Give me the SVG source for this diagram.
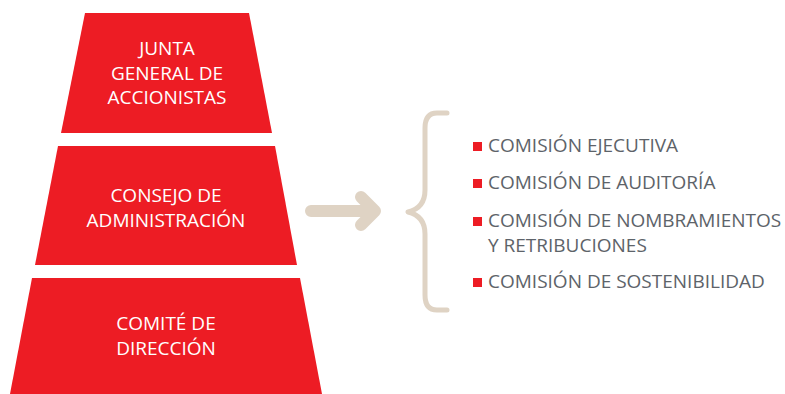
<svg xmlns="http://www.w3.org/2000/svg" width="785" height="394" viewBox="0 0 785 394">
<style>
.tier{fill:#ED1C24}
.wt{font-family:"Open Sans","Noto Sans",sans-serif;font-size:19px;fill:#ffffff;text-anchor:middle}
.lt{font-family:"Open Sans","Noto Sans",sans-serif;font-size:19px;fill:#5d6369}
.bul{fill:#ED1C24}
.con{fill:none;stroke:#DFD3C4;stroke-linecap:round;stroke-linejoin:round}
</style>
<rect width="785" height="394" fill="#ffffff"/>
<g id="junta">
<polygon class="tier" points="85,13 249,13 272,133 61,133"/>
<text class="wt" x="167" y="55">JUNTA</text>
<text class="wt" x="167" y="80">GENERAL DE</text>
<text class="wt" x="167" y="104">ACCIONISTAS</text>
</g>
<g id="consejo">
<polygon class="tier" points="58,146 275,146 297,265 35,265"/>
<text class="wt" x="166" y="202">CONSEJO DE</text>
<text class="wt" x="166" y="227">ADMINISTRACIÓN</text>
</g>
<g id="comite">
<polygon class="tier" points="32,278 300,278 322,394 10,394"/>
<text class="wt" x="166" y="330">COMITÉ DE</text>
<text class="wt" x="166" y="355">DIRECCIÓN</text>
</g>
<g id="connectors">
<path class="con" stroke-width="12" d="M311,211 H375 M361,197 L375,211 L361,225"/>
<path class="con" stroke-width="5" d="M447,113 H437 Q425,113 425,128 V190 Q425,208 408,212 Q425,216 425,234 V295 Q425,310 437,310 H447"/>
</g>
<g id="comisiones">
<rect class="bul" x="473" y="142" width="9" height="9"/>
<text class="lt" x="488" y="152">COMISIÓN EJECUTIVA</text>
<rect class="bul" x="473" y="179" width="9" height="9"/>
<text class="lt" x="488" y="189">COMISIÓN DE AUDITORÍA</text>
<rect class="bul" x="473" y="217" width="9" height="9"/>
<text class="lt" x="488" y="227">COMISIÓN DE NOMBRAMIENTOS</text>
<text class="lt" x="488" y="252">Y RETRIBUCIONES</text>
<rect class="bul" x="473" y="278" width="9" height="9"/>
<text class="lt" x="488" y="288">COMISIÓN DE SOSTENIBILIDAD</text>
</g>
</svg>
